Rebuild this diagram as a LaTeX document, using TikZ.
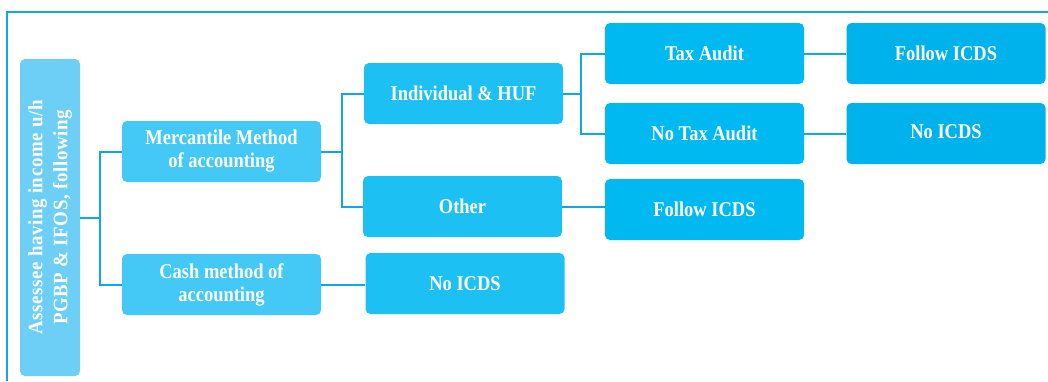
\documentclass[tikz,border=0pt]{standalone}
\usepackage{fontspec}
\setmainfont[FakeStretch=0.88]{Liberation Serif}
\newfontfamily\rootfont[LetterSpace=3,FakeStretch=0.92]{Liberation Serif}
\usetikzlibrary{positioning}
\definecolor{rootblue}{HTML}{6DCFF6}
\definecolor{oneblue}{HTML}{44C8F5}
\definecolor{twoblue}{HTML}{1CC0F2}
\definecolor{threeblue}{HTML}{00B9F1}
\definecolor{fourblue}{HTML}{00B2EC}
\definecolor{lineblue}{HTML}{10A8E2}

\begin{document}
\begin{tikzpicture}[x=1pt,y=-1pt,
	box/.style={rectangle,rounded corners=5pt,inner sep=0pt,minimum width=199pt,minimum height=61pt,
		align=center,text=white,font=\bfseries\fontsize{21}{23}\selectfont},
	link/.style={draw=lineblue,line width=2pt}]
		\useasboundingbox (0,0) rectangle (1048,381);
		\draw[lineblue,line width=1.5pt] (7,381) -- (7,12) -- (1048,12);
		\node[box,fill=rootblue,minimum width=60pt,minimum height=317pt] (a) at (50,217.5) {};
		\node[rotate=90,align=center,text=white,font=\rootfont\bfseries\fontsize{20.5}{25}\selectfont] (at) at (50,217.5) {Assessee having income u/h\\PGBP \& IFOS, following};
		\node[box,fill=oneblue] (b) at (221.5,151.5) {Mercantile Method\\of accounting};
		\node[box,fill=oneblue] (c) at (221.5,284.5) {Cash method of\\accounting};
		\node[box,fill=twoblue] (d) at (463.5,93.5) {Individual \& HUF};
		\node[box,fill=twoblue] (e) at (462.5,206.5) {Other};
		\node[box,fill=twoblue] (f) at (465,283.5) {No ICDS};
		\node[box,fill=threeblue] (g) at (704.5,53.5) {Tax Audit};
		\node[box,fill=threeblue] (h) at (704.5,133.5) {No Tax Audit};
		\node[box,fill=threeblue] (i) at (704.5,209.5) {Follow ICDS};
		\node[box,fill=fourblue] (j) at (946,53.5) {Follow ICDS};
		\node[box,fill=fourblue] (k) at (946,133.5) {\raisebox{4pt}{No ICDS}};
		\draw[link] (a.east) -- ++(20,0) |- (b.west);
		\draw[link] (a.east) -- ++(20,0) |- (c.west);
		\draw[link] (b.east) -- ++(21,0) |- (d.west);
		\draw[link] (b.east) -- ++(21,0) |- (e.west);
		\draw[link] (d.east) -- ++(18,0) |- (g.west);
		\draw[link] (d.east) -- ++(18,0) |- (h.west);
		\draw[link] (c.east) -- (c.east -| f.west);
		\draw[link] (e.east) -- (e.east -| i.west);
		\draw[link] (g.east) -- (j.west);
		\draw[link] (h.east) -- (k.west);
	\end{tikzpicture}
\end{document}
